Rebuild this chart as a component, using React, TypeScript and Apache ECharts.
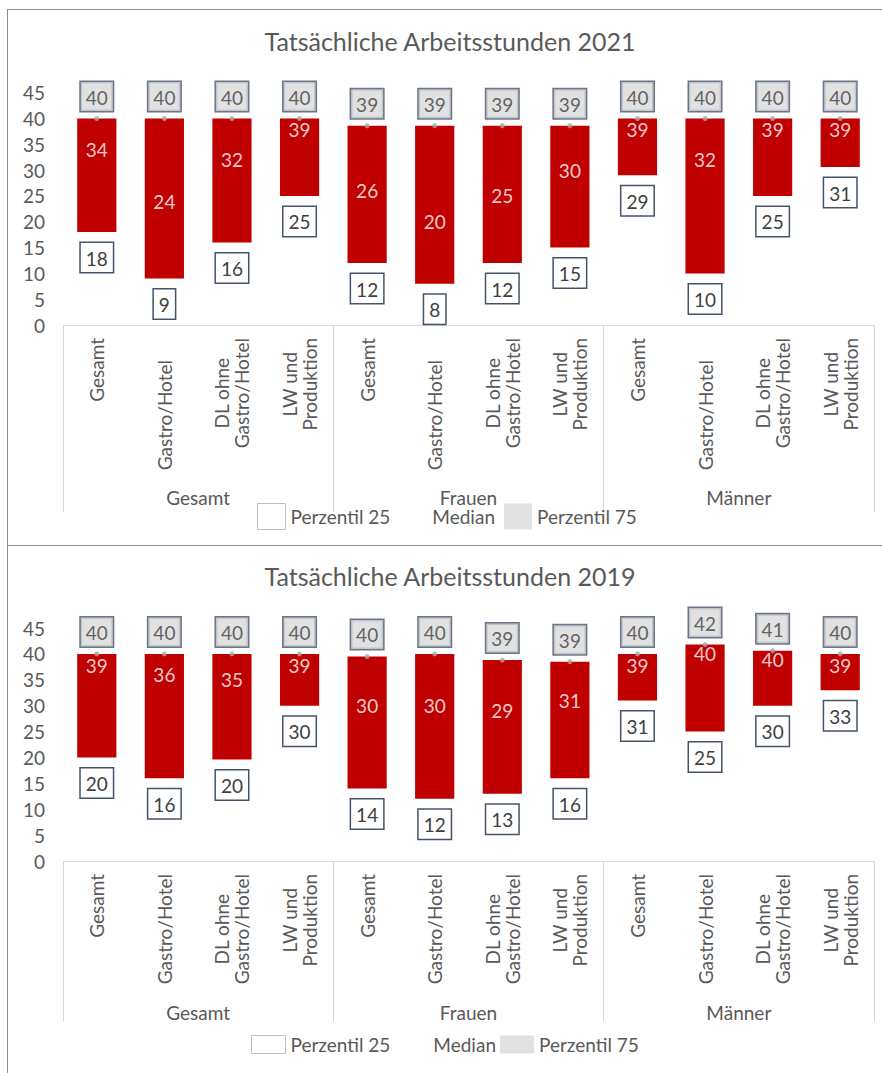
import React, { useEffect, useRef } from 'react';
import * as echarts from 'echarts';

const categories = [
  'Gesamt', 'Gastro/Hotel', 'DL ohne\nGastro/Hotel', 'LW und\nProduktion',
  'Gesamt', 'Gastro/Hotel', 'DL ohne\nGastro/Hotel', 'LW und\nProduktion',
  'Gesamt', 'Gastro/Hotel', 'DL ohne\nGastro/Hotel', 'LW und\nProduktion',
];
const groups = ['Gesamt', 'Frauen', 'Männer'];
const yTicks = { min: 0, max: 45, interval: 5 };

const p25_2021 = [18, 9, 16, 25, 12, 8, 12, 15, 29, 10, 25, 30.6];
const median_2021 = [34, 24, 32, 39, 26, 20, 25, 30, 39, 32, 39, 39];
const p75_2021 = [40, 40, 40, 40, 38.6, 38.6, 38.6, 38.6, 40, 40, 40, 40];

const p25_2019 = [20, 16, 19.6, 30, 14, 12, 13, 16, 31, 25, 30, 33];
const median_2019 = [39, 36, 35, 39, 30, 30, 29, 31, 39, 40, 40, 39];
const p75_2019 = [40, 40, 40, 40, 39.5, 40, 38.8, 38.5, 40, 41.8, 40.6, 40];

const FONT = 'Lato';
const TEXT = '#595959';
const FS = 19;

type Layout = {
  titleTop: number;
  gridTop: number;
  gridBottom: number;
  tickLen: number;
  groupMargin: number;
  legendTop: number;
  legendLeft: number;
  legendW: number;
  legendH: number;
  legendGap: number;
  singlePad: number;
};

function makeOption(title: string, p25: number[], median: number[], p75: number[], L: Layout) {
  const boxLabel = {
    show: true,
    formatter: (p: any) => String(Math.round(Array.isArray(p.value) ? p.value[1] : p.value)),
    color: '#404040',
    fontSize: FS,
    fontFamily: FONT,
    lineHeight: 22,
    borderColor: '#44546a',
    borderWidth: 1.5,
    padding: [4, 5, 3, 5],
  };
  return {
    animation: false,
    textStyle: { fontFamily: FONT },
    title: {
      text: title,
      left: 'center',
      top: L.titleTop,
      padding: 0,
      textStyle: { fontSize: 25, fontWeight: 'normal', color: TEXT, fontFamily: FONT },
    },
    legend: {
      left: L.legendLeft,
      top: L.legendTop,
      padding: 0,
      itemWidth: L.legendW,
      itemHeight: L.legendH,
      itemGap: L.legendGap,
      selectedMode: false,
      textStyle: { fontSize: FS, color: TEXT, fontFamily: FONT, lineHeight: 14 },
      data: [
        { name: 'Perzentil 25', icon: 'rect', itemStyle: { color: '#ffffff', borderColor: '#bfbfbf', borderWidth: 1 } },
        { name: 'Median', icon: 'rect', itemStyle: { color: 'rgba(0,0,0,0)', borderWidth: 0 } },
        { name: 'Perzentil 75', icon: 'rect', itemStyle: { color: '#d9d9d9', borderWidth: 0 } },
      ],
    },
    grid: { left: 63, right: 26, top: L.gridTop, bottom: L.gridBottom, containLabel: false },
    xAxis: [
      {
        type: 'category',
        data: categories,
        axisLine: { show: true, lineStyle: { color: '#d9d9d9', width: 1 } },
        axisTick: { show: false },
        axisLabel: {
          interval: 0,
          rotate: 90,
          margin: 13,
          formatter: (v: string) => {
            const lines = v.split('\n');
            if (lines.length === 1 && v.length > 8) return `{p|${v}}`;
            return lines.map((l) => `{c|${l}}`).join('\n');
          },
          rich: {
            c: { align: 'center', fontSize: FS, color: TEXT, fontFamily: FONT, lineHeight: 20 },
            p: { fontSize: FS, color: TEXT, fontFamily: FONT, lineHeight: 20, padding: [0, L.singlePad, 0, 0] },
          },
        },
      },
      {
        type: 'category',
        data: groups,
        position: 'bottom',
        axisLine: { show: false },
        axisTick: { show: true, length: L.tickLen, lineStyle: { color: '#d9d9d9', width: 1 } },
        axisLabel: { margin: L.groupMargin, fontSize: FS, color: TEXT, fontFamily: FONT, lineHeight: 14 },
      },
    ],
    yAxis: {
      type: 'value',
      min: yTicks.min,
      max: yTicks.max,
      interval: yTicks.interval,
      splitLine: { show: false },
      axisLine: { show: false },
      axisTick: { show: false },
      axisLabel: { fontSize: FS, color: TEXT, fontFamily: FONT, margin: 18 },
    },
    series: [
      {
        name: 'Perzentil 25',
        type: 'bar',
        stack: 'box',
        barWidth: '58%',
        data: p25,
        itemStyle: { color: 'rgba(0,0,0,0)' },
        label: { ...boxLabel, position: 'insideTop', distance: 11, backgroundColor: '#ffffff' },
        emphasis: { disabled: true },
      },
      {
        name: 'Range',
        type: 'bar',
        stack: 'box',
        barWidth: '58%',
        data: p75.map((v, i) => Math.round((v - p25[i]) * 100) / 100),
        itemStyle: { color: '#c00000' },
        emphasis: { disabled: true },
      },
      {
        name: 'Median',
        type: 'scatter',
        symbol: 'circle',
        symbolSize: 2,
        itemStyle: { color: 'rgba(0,0,0,0)' },
        data: median.map((v, i) => ({
          value: v,
          label: p75[i] - v < 1.5 ? { offset: [0, 6] } : undefined,
        })),
        label: {
          show: true,
          position: 'inside',
          color: '#ffffff',
          fontSize: FS,
          fontFamily: FONT,
          formatter: (p: any) => String(Math.round(p.value)),
        },
        emphasis: { disabled: true },
        z: 5,
      },
      {
        name: 'Perzentil 75',
        type: 'scatter',
        symbol: 'circle',
        symbolSize: 5,
        itemStyle: { color: '#a6a6a6' },
        data: p75,
        label: { ...boxLabel, position: 'top', distance: 5, backgroundColor: '#d9d9d9' },
        emphasis: { disabled: true },
        z: 5,
      },
    ],
  };
}

function Chart({ option, style }: { option: any; style: React.CSSProperties }) {
  const ref = useRef<HTMLDivElement>(null);
  useEffect(() => {
    const chart = echarts.init(ref.current!, null, { renderer: 'svg' });
    chart.setOption(option);
    return () => chart.dispose();
  }, []);
  return <div ref={ref} style={style} />;
}

const opt2021 = makeOption('Tatsächliche Arbeitsstunden 2021', p25_2021, median_2021, p75_2021, {
  titleTop: 28,
  gridTop: 92.7,
  gridBottom: 220,
  tickLen: 187,
  groupMargin: 165,
  legendTop: 503,
  legendLeft: 257,
  legendW: 28,
  legendH: 26,
  legendGap: 9,
  singlePad: 22,
});

const opt2019 = makeOption('Tatsächliche Arbeitsstunden 2019', p25_2019, median_2019, p75_2019, {
  titleTop: 18,
  gridTop: 83,
  gridBottom: 212,
  tickLen: 161,
  groupMargin: 144,
  legendTop: 490,
  legendLeft: 251,
  legendW: 34,
  legendH: 18,
  legendGap: 4,
  singlePad: 0,
});

export default function App() {
  return (
    <div style={{ position: 'fixed', left: 0, top: 0, width: 882, height: 1073, overflow: 'hidden', background: '#ffffff' }}>
      <div style={{ position: 'absolute', left: 7, top: 9, width: 1000, height: 535, border: '1px solid #8c8c8c' }} />
      <div style={{ position: 'absolute', left: 7, top: 545, width: 1000, height: 600, borderLeft: '1px solid #8c8c8c', borderTop: '1px solid #8c8c8c' }} />
      <Chart option={opt2021} style={{ position: 'absolute', left: 0, top: 0, width: 900, height: 545 }} />
      <Chart option={opt2019} style={{ position: 'absolute', left: 0, top: 545, width: 900, height: 528 }} />
    </div>
  );
}
